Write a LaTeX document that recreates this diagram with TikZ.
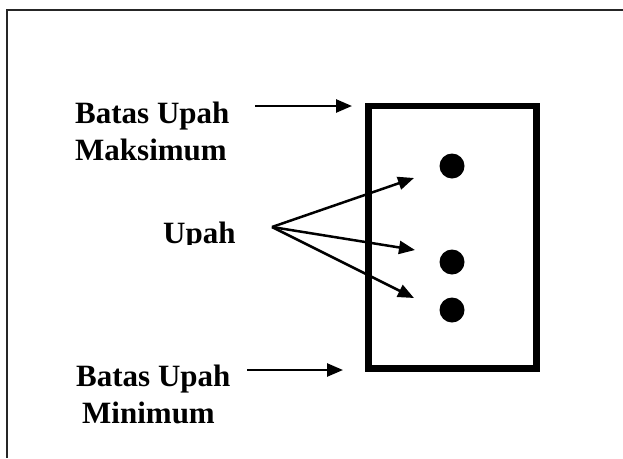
\documentclass[tikz,border=0pt]{standalone}
\usepackage{fontspec}
\setmainfont{Liberation Serif}
\usetikzlibrary{arrows.meta}
\begin{document}
\begin{tikzpicture}[x=1pt,y=-1pt,
  lbl/.style={font=\fontsize{31}{37}\selectfont\bfseries, inner sep=0pt, align=left},
  conn/.style={line width=2.5pt, -{Triangle[length=16pt,width=13pt]}},
  dot/.style={circle, fill=black, minimum size=25pt, inner sep=0pt},
  frame/.style={line width=2.5pt, black!85},
  box/.style={draw, line width=6.5pt, minimum width=168pt, minimum height=262.5pt, inner sep=0pt}
]
\useasboundingbox (0,0) rectangle (623,458);
\draw[frame] (623,10) -- (7,10) -- (7,458);

\node[box] (rect) at (452.5,237.25) {};
\node[dot] (d1) at (452,166) {};
\node[dot] (d2) at (452,262) {};
\node[dot] (d3) at (452,310) {};

\node[lbl, anchor=base west] (max) at (75,160) {Batas Upah\\Maksimum};
\node[lbl, anchor=base west] (min) at (76,423) {Batas Upah\\\hspace*{6pt}Minimum};
\begin{scope}
  \clip (140,200) rectangle (260,244);
  \node[lbl, anchor=base west] (upah) at (163,243) {Upah};
\end{scope}

\coordinate (ms) at (255,106);
\coordinate (me) at (352,106);
\coordinate (ns) at (247,370);
\coordinate (ne) at (343,370);
\coordinate (u) at (272,227);
\coordinate (t1) at (414,178);
\coordinate (t2) at (415,250);
\coordinate (t3) at (414,298);

\draw[conn] (ms) -- (me);
\draw[conn] (ns) -- (ne);
\draw[conn] (u) -- (t1);
\draw[conn] (u) -- (t2);
\draw[conn] (u) -- (t3);
\end{tikzpicture}
\end{document}
